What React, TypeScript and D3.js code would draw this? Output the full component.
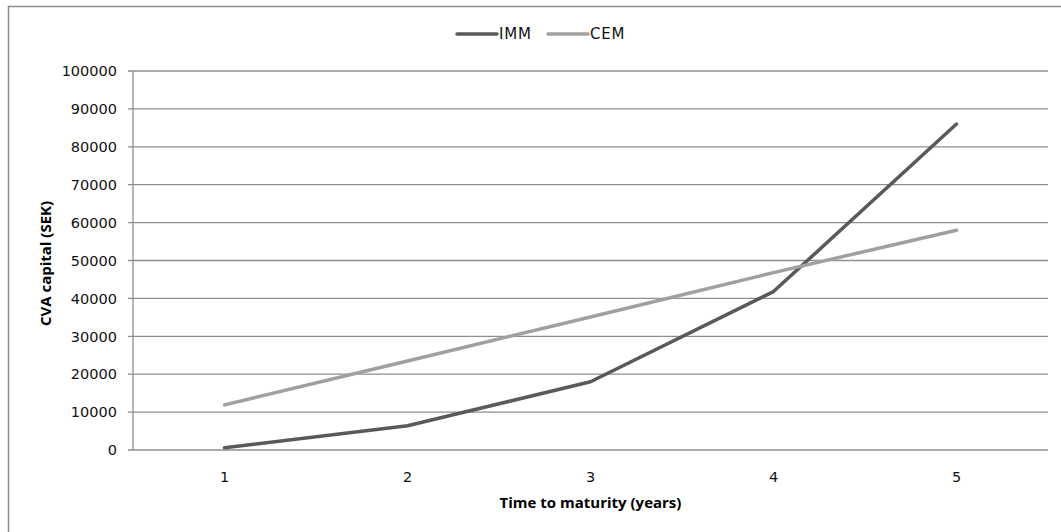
import React from "react";
import * as d3 from "d3";

const categories = ["1", "2", "3", "4", "5"];
const immValues = [600, 6400, 18000, 41800, 86000];
const cemValues = [11900, 23500, 35100, 46800, 58000];
const yTicks = [0, 10000, 20000, 30000, 40000, 50000, 60000, 70000, 80000, 90000, 100000];
const seriesNames = ["IMM", "CEM"];

const W = 1061;
const H = 532;
const plot = { left: 133, right: 1048, top: 71, bottom: 450 };

export default function App() {
  const x = d3.scaleBand().domain(categories).range([plot.left, plot.right]);
  const y = d3.scaleLinear().domain([0, 100000]).range([plot.bottom, plot.top]);
  const line = d3
    .line<number>()
    .x((_, i) => (x(categories[i]) as number) + x.bandwidth() / 2)
    .y((d) => y(d));

  const series = [
    { name: seriesNames[0], values: immValues, color: "#595959" },
    { name: seriesNames[1], values: cemValues, color: "#a0a0a0" },
  ];

  const grid = "#8e8e8e";
  const tickFont = "DejaVu Sans, Verdana, sans-serif";
  const titleFont = "Open Sans, Lato, sans-serif";

  return (
    <svg
      width={W}
      height={H}
      style={{ position: "absolute", left: 0, top: 0, background: "#fff" }}
    >
      <rect x={8.5} y={6.5} width={1060} height={530} fill="#fff" stroke="#8c8c8c" strokeWidth={1.5} />

      {yTicks.map((t) => (
        <g key={t}>
          <line x1={plot.left - 5} x2={plot.right} y1={y(t)} y2={y(t)} stroke={grid} strokeWidth={1.3} />
          <text
            x={117}
            y={y(t)}
            dy="0.36em"
            textAnchor="end"
            fontFamily={tickFont}
            fontSize={14.5}
            fill="#111"
          >
            {t}
          </text>
        </g>
      ))}
      <line x1={plot.left} x2={plot.left} y1={plot.top} y2={plot.bottom} stroke={grid} strokeWidth={1.3} />

      {categories.map((c) => (
        <text
          key={c}
          x={(x(c) as number) + x.bandwidth() / 2}
          y={482}
          textAnchor="middle"
          fontFamily={tickFont}
          fontSize={14.5}
          fill="#111"
        >
          {c}
        </text>
      ))}

      {series.map((s) => (
        <path
          key={s.name}
          d={line(s.values) || ""}
          fill="none"
          stroke={s.color}
          strokeWidth={3.5}
          strokeLinecap="round"
          strokeLinejoin="round"
        />
      ))}

      <text
        x={(plot.left + plot.right) / 2}
        y={508}
        textAnchor="middle"
        fontFamily={titleFont}
        fontWeight="bold"
        fontSize={15}
        fill="#000"
      >
        Time to maturity (years)
      </text>
      <text
        transform={`translate(46, ${(plot.top + plot.bottom) / 2 + 3}) rotate(-90)`}
        textAnchor="middle"
        dy="0.35em"
        fontFamily={titleFont}
        fontWeight="bold"
        fontSize={15}
        fill="#000"
      >
        CVA capital  (SEK)
      </text>

      {series.map((s, i) => {
        const lx = i === 0 ? 457 : 548;
        return (
          <g key={s.name}>
            <line x1={lx} x2={lx + 40} y1={34} y2={34} stroke={s.color} strokeWidth={3.5} strokeLinecap="round" />
            <text x={lx + 42} y={34} dy="0.36em" fontFamily={tickFont} fontSize={15} letterSpacing={0.8} fill="#111">
              {s.name}
            </text>
          </g>
        );
      })}
    </svg>
  );
}
